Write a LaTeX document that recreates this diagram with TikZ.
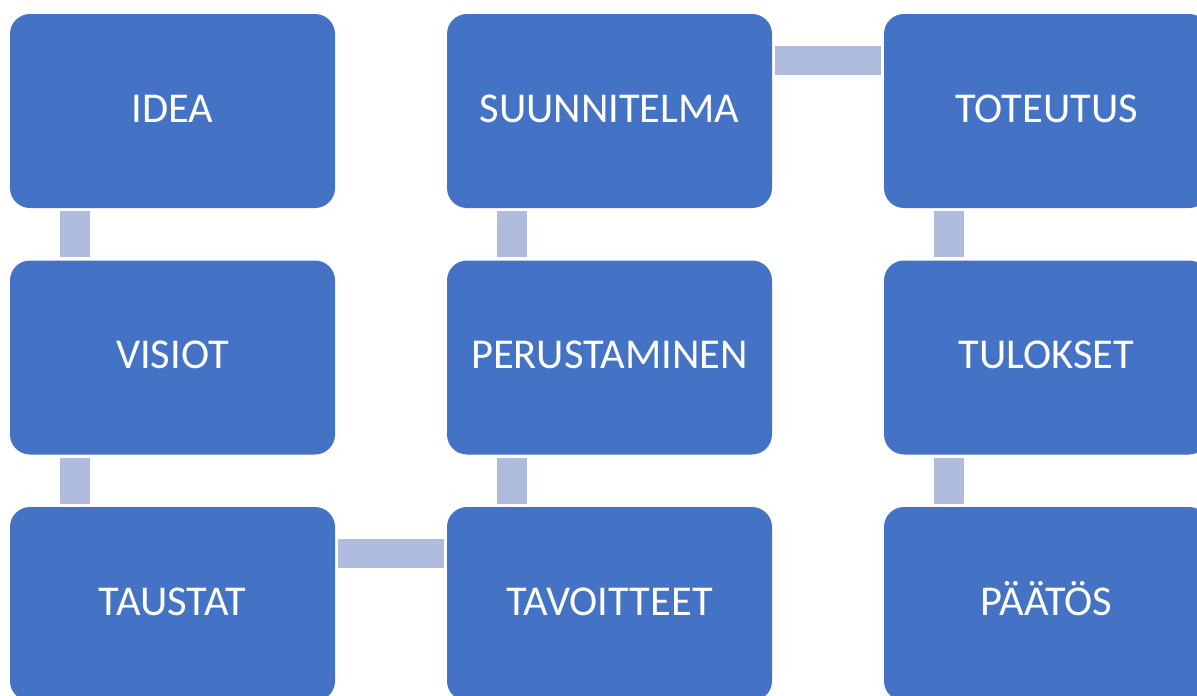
\documentclass[tikz,border=0pt]{standalone}
\usepackage{fontspec}
\setmainfont{Carlito}
\definecolor{boxblue}{RGB}{68,114,196}
\definecolor{linkblue}{RGB}{176,188,222}
\begin{document}
\begin{tikzpicture}[x=1pt,y=-1pt,
  stepbox/.style={fill=boxblue, draw=none, rounded corners=20pt, minimum width=325pt, minimum height=194pt, inner sep=0pt, text height=27pt, text depth=5pt, text=white, font=\fontsize{42.5}{50}\selectfont},
  vlink/.style={draw=linkblue, line width=30pt, shorten <=3pt, shorten >=3pt},
  hlink/.style={draw=linkblue, line width=29pt, shorten <=3pt, shorten >=3pt}]
\useasboundingbox (0,0) rectangle (1197,696);
\clip (0,0) rectangle (1197,696);
\node[stepbox] (idea) at (172.5,111) {IDEA};
\node[stepbox] (visiot) at (172.5,357.5) {VISIOT};
\node[stepbox] (taustat) at (172.5,604) {TAUSTAT};
\node[stepbox] (tavoitteet) at (609.5,604) {TAVOITTEET};
\node[stepbox] (perustaminen) at (609.5,357.5) {PERUSTAMINEN};
\node[stepbox] (suunnitelma) at (609.5,111) {SUUNNITELMA};
\node[stepbox] (toteutus) at (1046.5,111) {TOTEUTUS};
\node[stepbox] (tulokset) at (1046.5,357.5) {TULOKSET};
\node[stepbox] (paatos) at (1046.5,604) {PÄÄTÖS};
\draw[vlink] ([xshift=-97.5pt]idea.south) -- ([xshift=-97.5pt]visiot.north);
\draw[vlink] ([xshift=-97.5pt]visiot.south) -- ([xshift=-97.5pt]taustat.north);
\draw[hlink] ([yshift=50.5pt]taustat.east) -- ([yshift=50.5pt]tavoitteet.west);
\draw[vlink] ([xshift=-97.5pt]tavoitteet.north) -- ([xshift=-97.5pt]perustaminen.south);
\draw[vlink] ([xshift=-97.5pt]perustaminen.north) -- ([xshift=-97.5pt]suunnitelma.south);
\draw[hlink] ([yshift=50.5pt]suunnitelma.east) -- ([yshift=50.5pt]toteutus.west);
\draw[vlink] ([xshift=-97.5pt]toteutus.south) -- ([xshift=-97.5pt]tulokset.north);
\draw[vlink] ([xshift=-97.5pt]tulokset.south) -- ([xshift=-97.5pt]paatos.north);
\end{tikzpicture}
\end{document}
